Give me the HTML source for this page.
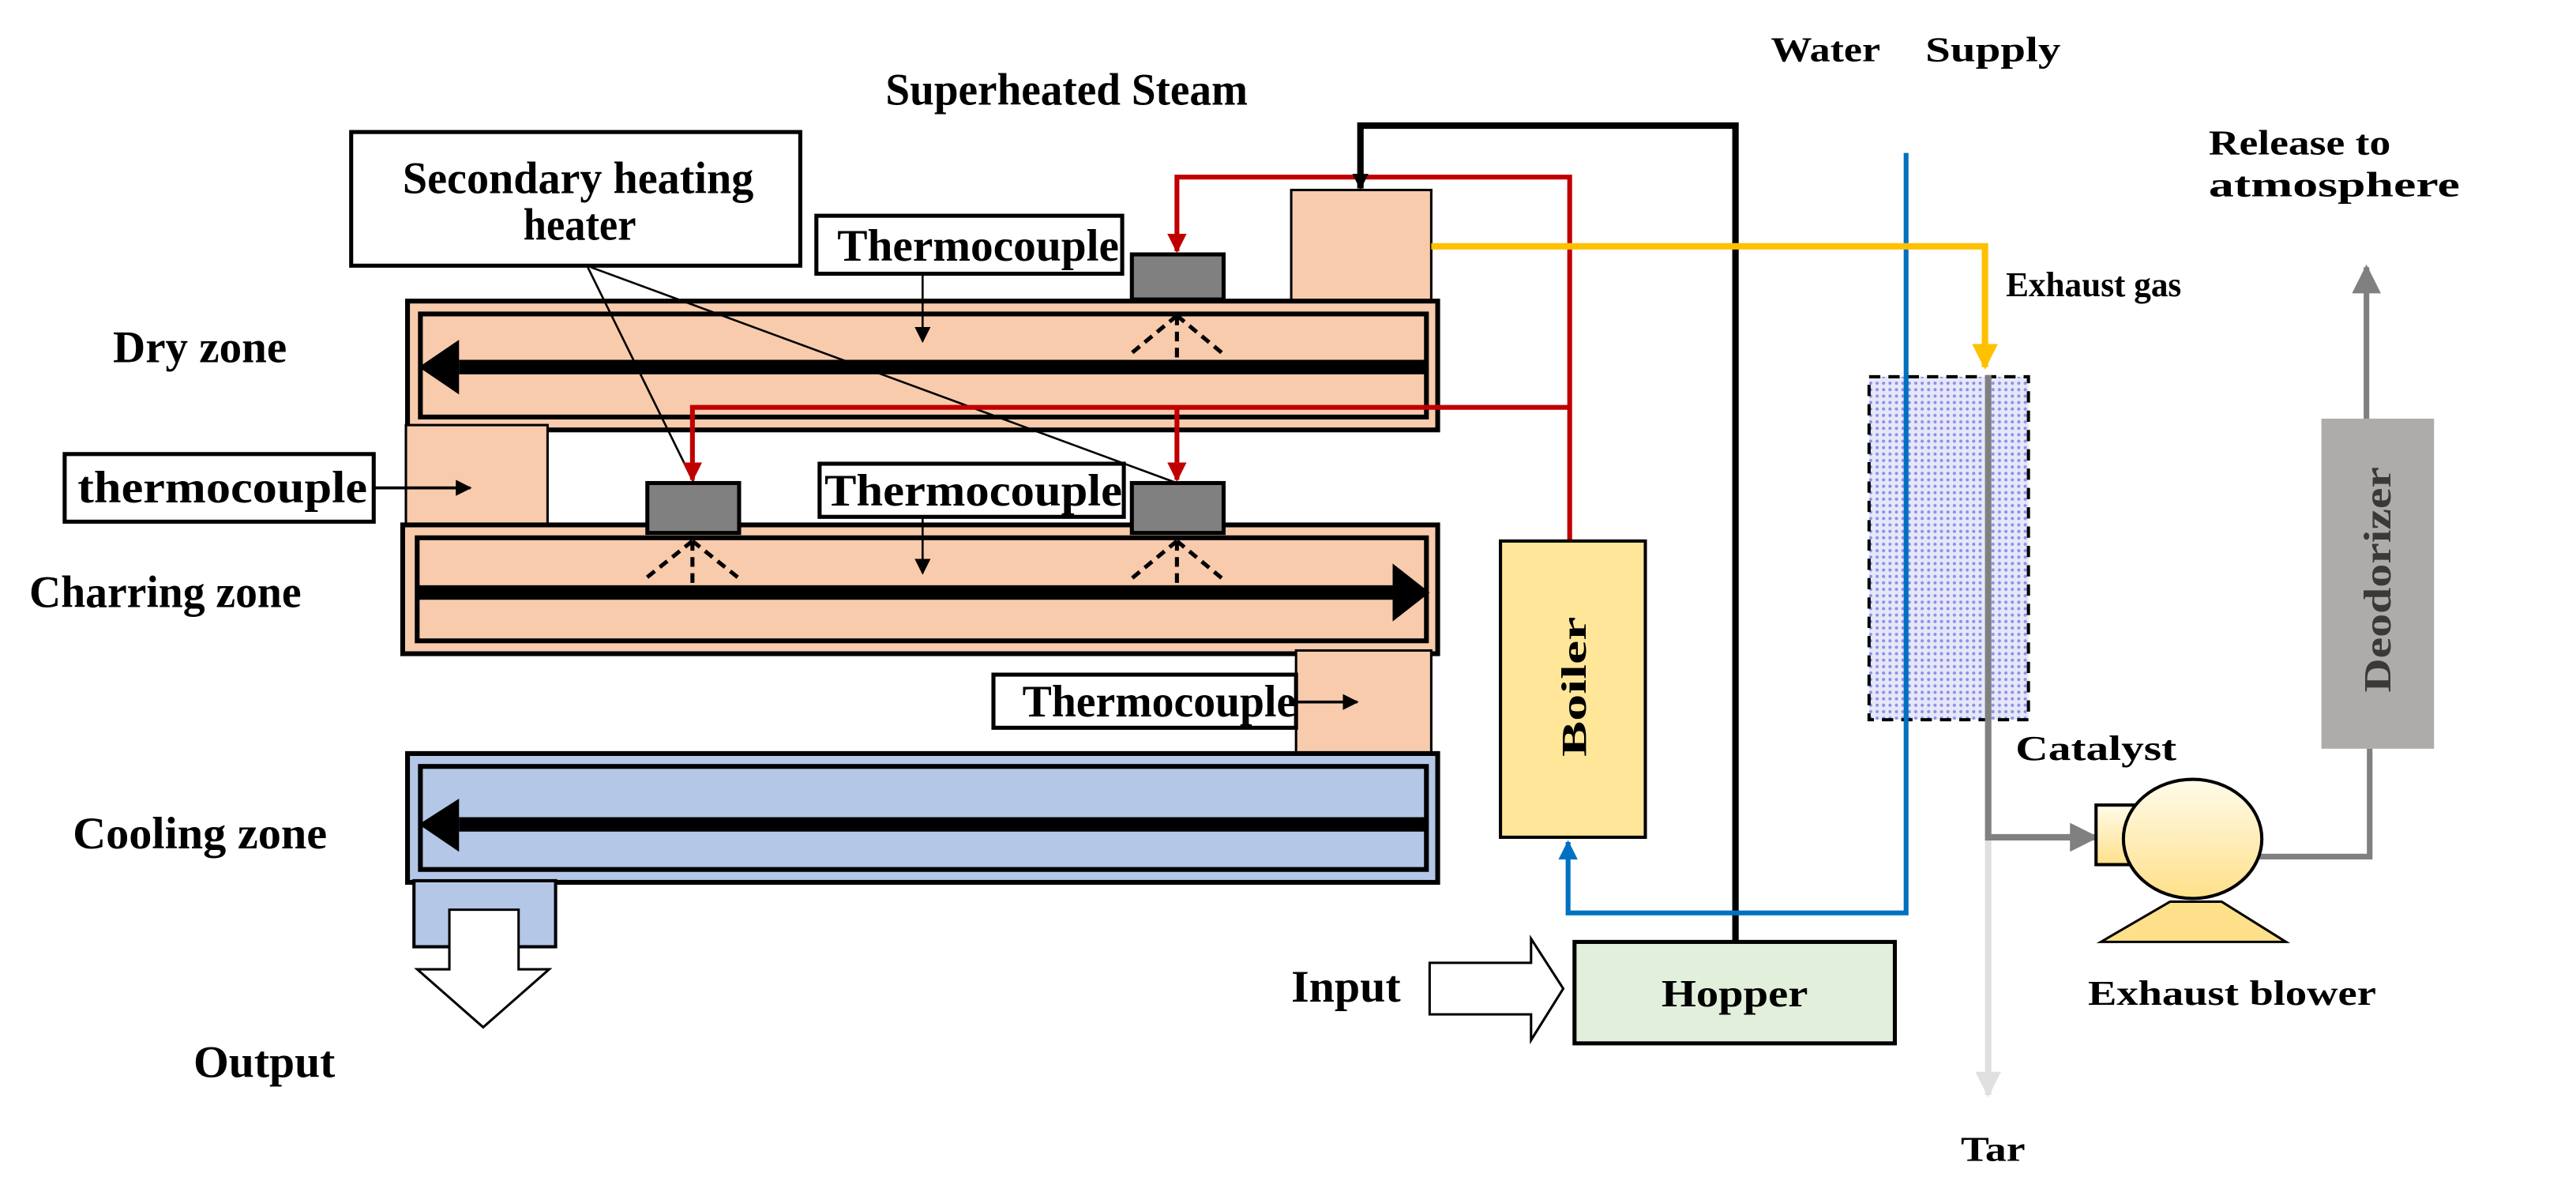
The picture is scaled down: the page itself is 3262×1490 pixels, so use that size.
<!DOCTYPE html>
<html><head><meta charset="utf-8"><style>html,body{margin:0;padding:0;background:#fff}svg{display:block}</style></head><body>
<svg width="3262" height="1490" viewBox="0 0 1600 731" xmlns="http://www.w3.org/2000/svg" font-family="'Liberation Serif', serif" font-weight="bold">
<defs>
<marker id="ar" viewBox="0 0 10 10" markerWidth="12" markerHeight="14" refX="9" refY="5" orient="auto" markerUnits="userSpaceOnUse"><path d="M0,0 L10,5 L0,10 z" fill="#C00000"/></marker>
<marker id="ay" viewBox="0 0 10 10" markerWidth="16" markerHeight="18" refX="9" refY="5" orient="auto" markerUnits="userSpaceOnUse"><path d="M0,0 L10,5 L0,10 z" fill="#FFC000"/></marker>
<marker id="abl" viewBox="0 0 10 10" markerWidth="12" markerHeight="14" refX="9" refY="5" orient="auto" markerUnits="userSpaceOnUse"><path d="M0,0 L10,5 L0,10 z" fill="#0070C0"/></marker>
<marker id="ag" viewBox="0 0 10 10" markerWidth="18" markerHeight="18" refX="9" refY="5" orient="auto" markerUnits="userSpaceOnUse"><path d="M0,0 L10,5 L0,10 z" fill="#808080"/></marker>
<marker id="alg" viewBox="0 0 10 10" markerWidth="16" markerHeight="16" refX="9" refY="5" orient="auto" markerUnits="userSpaceOnUse"><path d="M0,0 L10,5 L0,10 z" fill="#E0E0E0"/></marker>
<marker id="ak" viewBox="0 0 10 10" markerWidth="10" markerHeight="12" refX="9" refY="5" orient="auto" markerUnits="userSpaceOnUse"><path d="M0,0 L10,5 L0,10 z" fill="#000"/></marker>
<pattern id="dots" width="4" height="4" patternUnits="userSpaceOnUse"><rect width="4" height="4" fill="#E6E8FA"/><circle cx="2" cy="2" r="1" fill="#8C8FE6"/></pattern>
<linearGradient id="yg" x1="0" y1="0" x2="0" y2="1"><stop offset="0" stop-color="#FFFBEA"/><stop offset="1" stop-color="#FFE08A"/></linearGradient>
</defs>

<g font-size="28">
<text x="550" y="65" textLength="225" lengthAdjust="spacingAndGlyphs">Superheated Steam</text>
<text x="70" y="225" textLength="108" lengthAdjust="spacingAndGlyphs">Dry zone</text>
<text x="18" y="377" textLength="169" lengthAdjust="spacingAndGlyphs">Charring zone</text>
<text x="45" y="527" textLength="158" lengthAdjust="spacingAndGlyphs">Cooling zone</text>
<text x="120" y="669" textLength="88" lengthAdjust="spacingAndGlyphs">Output</text>
<text x="802" y="622" textLength="68" lengthAdjust="spacingAndGlyphs">Input</text>
</g>
<g font-size="22">
<text x="1100" y="38" textLength="68" lengthAdjust="spacingAndGlyphs">Water</text>
<text x="1196" y="38" textLength="84" lengthAdjust="spacingAndGlyphs">Supply</text>
<text x="1372" y="96" textLength="113" lengthAdjust="spacingAndGlyphs">Release to</text>
<text x="1372" y="122" textLength="156" lengthAdjust="spacingAndGlyphs">atmosphere</text>
<text x="1246" y="184" textLength="109" lengthAdjust="spacingAndGlyphs">Exhaust gas</text>
<text x="1252" y="472" textLength="100" lengthAdjust="spacingAndGlyphs">Catalyst</text>
<text x="1297" y="624" textLength="179" lengthAdjust="spacingAndGlyphs">Exhaust blower</text>
<text x="1218" y="721" textLength="40" lengthAdjust="spacingAndGlyphs">Tar</text>
</g>

<rect x="218" y="82" width="279" height="83" fill="#fff" stroke="#000" stroke-width="2.5"/>
<g font-size="28">
<text x="250" y="120" textLength="218" lengthAdjust="spacingAndGlyphs">Secondary heating</text>
<text x="325" y="149" textLength="70" lengthAdjust="spacingAndGlyphs">heater</text>
</g>

<rect x="802" y="118" width="87" height="69" fill="#F8CBAD" stroke="#000" stroke-width="1.5"/>

<rect x="253" y="187" width="640" height="80" fill="#F8CBAD" stroke="#000" stroke-width="3"/>
<rect x="261" y="195" width="625" height="64" fill="#F8CBAD" stroke="#000" stroke-width="3"/>
<line x1="887" y1="228" x2="285" y2="228" stroke="#000" stroke-width="9"/>
<path d="M260,228 L285,211 L285,245 z" fill="#000"/>

<rect x="252" y="264" width="88" height="64" fill="#F8CBAD" stroke="#000" stroke-width="1.5"/>

<rect x="250" y="326" width="643" height="80" fill="#F8CBAD" stroke="#000" stroke-width="3"/>
<rect x="259" y="334" width="627" height="64" fill="#F8CBAD" stroke="#000" stroke-width="3"/>
<line x1="260" y1="368" x2="865" y2="368" stroke="#000" stroke-width="9"/>
<path d="M888,368 L865,350 L865,386 z" fill="#000"/>

<rect x="805" y="404" width="84" height="66" fill="#F8CBAD" stroke="#000" stroke-width="1.5"/>

<rect x="253" y="468" width="640" height="80" fill="#B4C7E7" stroke="#000" stroke-width="3"/>
<rect x="261" y="476" width="625" height="64" fill="#B4C7E7" stroke="#000" stroke-width="3"/>
<line x1="886" y1="512" x2="285" y2="512" stroke="#000" stroke-width="9"/>
<path d="M260,512 L285,496 L285,529 z" fill="#000"/>

<rect x="257" y="547" width="88" height="41" fill="#B4C7E7" stroke="#000" stroke-width="2"/>
<path d="M279,565 L322,565 L322,602 L341,602 L300,638 L259,602 L279,602 z" fill="#fff" stroke="#000" stroke-width="1.5"/>

<rect x="703" y="158" width="57" height="28" fill="#808080" stroke="#000" stroke-width="2.5"/>
<rect x="402" y="300" width="57" height="31" fill="#808080" stroke="#000" stroke-width="2.5"/>
<rect x="703" y="300" width="57" height="31" fill="#808080" stroke="#000" stroke-width="2.5"/>

<g stroke="#000" stroke-width="2.5" stroke-dasharray="6,4" fill="none">
<path d="M731,196 V222 M731,196 L702,220 M731,196 L760,220"/>
<path d="M430,336 V366 M430,336 L400,360 M430,336 L460,360"/>
<path d="M731,336 V366 M731,336 L702,360 M731,336 L760,360"/>
</g>

<g font-size="28">
<rect x="507" y="134" width="190" height="36" fill="#fff" stroke="#000" stroke-width="2.5"/>
<text x="520" y="162" textLength="175" lengthAdjust="spacingAndGlyphs">Thermocouple</text>
<rect x="509" y="288" width="189" height="33" fill="#fff" stroke="#000" stroke-width="2.5"/>
<text x="512" y="314" textLength="185" lengthAdjust="spacingAndGlyphs">Thermocouple</text>
<rect x="40" y="282" width="192" height="42" fill="#fff" stroke="#000" stroke-width="2.5"/>
<text x="48" y="312" textLength="180" lengthAdjust="spacingAndGlyphs">thermocouple</text>
<rect x="617" y="419" width="188" height="33" fill="#fff" stroke="#000" stroke-width="2.5"/>
<text x="635" y="445" textLength="170" lengthAdjust="spacingAndGlyphs">Thermocouple</text>
</g>
<line x1="573" y1="170" x2="573" y2="212" stroke="#000" stroke-width="1.3" marker-end="url(#ak)"/>
<line x1="573" y1="321" x2="573" y2="356" stroke="#000" stroke-width="1.3" marker-end="url(#ak)"/>
<line x1="232" y1="303" x2="292" y2="303" stroke="#000" stroke-width="1.8" marker-end="url(#ak)"/>
<line x1="805" y1="436" x2="843" y2="436" stroke="#000" stroke-width="1.8" marker-end="url(#ak)"/>

<line x1="365" y1="166" x2="431" y2="300" stroke="#000" stroke-width="1.3"/>
<line x1="367" y1="166" x2="731" y2="300" stroke="#000" stroke-width="1.3"/>

<g stroke="#C00000" stroke-width="3" fill="none">
<path d="M975,336 V110 H731 V156" marker-end="url(#ar)"/>
<path d="M975,253 H430 V298" marker-end="url(#ar)"/>
<path d="M731,253 V298" marker-end="url(#ar)"/>
</g>

<path d="M1078,585 V78 H845 V117" stroke="#000" stroke-width="4" fill="none" marker-end="url(#ak)"/>

<rect x="1161" y="234" width="99" height="213" fill="url(#dots)" stroke="#000" stroke-width="2" stroke-dasharray="7,5"/>

<path d="M1184,95 V567 H974 V523" stroke="#0070C0" stroke-width="3" fill="none" marker-end="url(#abl)"/>

<path d="M889,153 H1233 V228" stroke="#FFC000" stroke-width="4" fill="none" marker-end="url(#ay)"/>

<rect x="932" y="336" width="90" height="184" fill="#FFE699" stroke="#000" stroke-width="2"/>
<text transform="translate(985,470) rotate(-90)" font-size="22" textLength="87" lengthAdjust="spacingAndGlyphs">Boiler</text>

<rect x="978" y="585" width="199" height="63" fill="#E2EFDA" stroke="#000" stroke-width="2.5"/>
<text x="1032" y="625" font-size="24" textLength="91" lengthAdjust="spacingAndGlyphs">Hopper</text>

<path d="M888,598 L951,598 L951,583 L971,614 L951,646 L951,630 L888,630 z" fill="#fff" stroke="#000" stroke-width="1.5"/>

<path d="M1235,520 V680" stroke="#E0E0E0" stroke-width="4" fill="none" marker-end="url(#alg)"/>
<path d="M1235,233 V520 H1302" stroke="#808080" stroke-width="4" fill="none" marker-end="url(#ag)"/>
<path d="M1403,532 H1472 V465" stroke="#808080" stroke-width="3.5" fill="none"/>
<path d="M1470,262 V166" stroke="#808080" stroke-width="3.5" fill="none" marker-end="url(#ag)"/>

<path d="M1305,585 L1348,560 L1380,560 L1420,585 z" fill="#FFE08A" stroke="#000" stroke-width="1.5"/>
<rect x="1302" y="500" width="58" height="37" fill="url(#yg)" stroke="#000" stroke-width="2"/>
<ellipse cx="1362" cy="521" rx="43" ry="37" fill="url(#yg)" stroke="#000" stroke-width="2"/>

<rect x="1442" y="260" width="70" height="205" fill="#AEABAB"/>
<text transform="translate(1485,430) rotate(-90)" font-size="24" textLength="140" lengthAdjust="spacingAndGlyphs" fill="#3B3838">Deodorizer</text>
</svg>
</body></html>
